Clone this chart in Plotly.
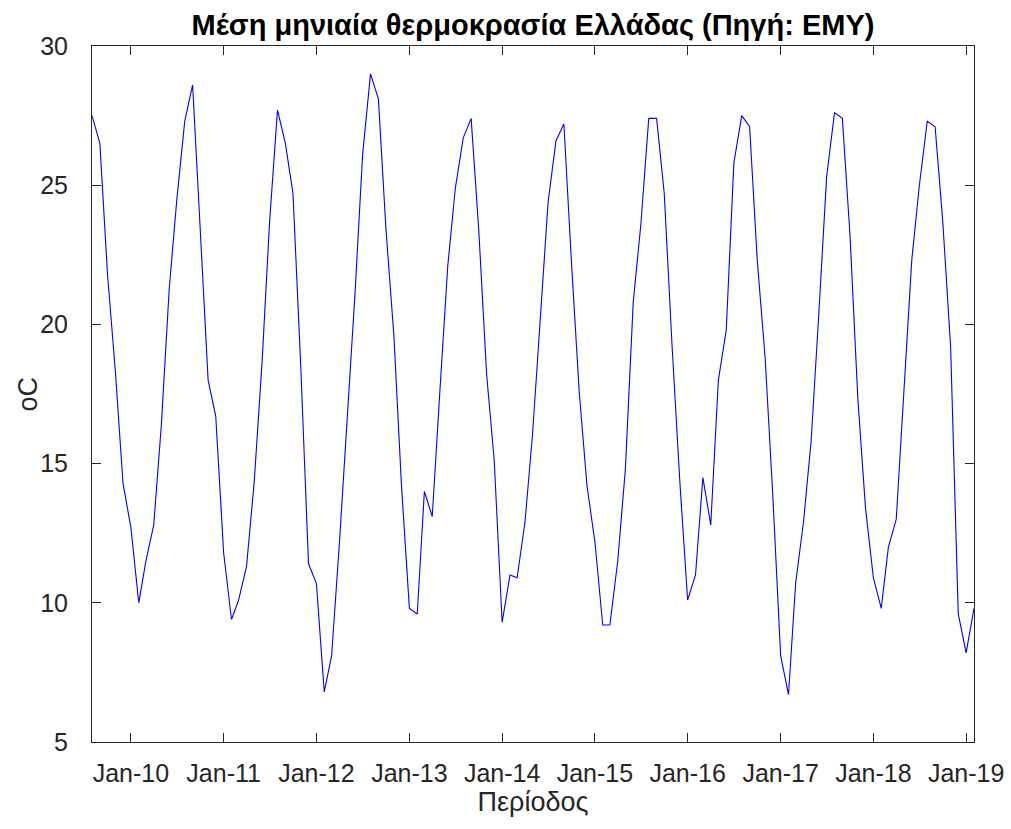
import pandas as pd
import plotly.graph_objects as go

# Monthly mean temperature, Aug 2009 - Feb 2019 (°C)
start_month = "2009-08-01"
temps_2009 = [27.5, 26.5, 21.8, 18.3, 14.3]
temps_2010 = [12.7, 10.0, 11.5, 12.8, 16.4, 21.3, 24.5, 27.3, 28.6, 23.4, 18.0, 16.7]
temps_2011 = [11.8, 9.4, 10.1, 11.3, 14.3, 18.6, 23.7, 27.7, 26.5, 24.7, 18.4, 11.4]
temps_2012 = [10.7, 6.8, 8.1, 12.2, 16.5, 21.1, 26.1, 29.0, 28.1, 23.4, 19.6, 14.2]
temps_2013 = [9.8, 9.6, 14.0, 13.1, 17.6, 22.1, 24.9, 26.7, 27.4, 23.4, 18.2, 15.1]
temps_2014 = [9.3, 11.0, 10.9, 12.9, 16.1, 20.2, 24.4, 26.6, 27.2, 22.2, 17.5, 14.2]
temps_2015 = [12.2, 9.2, 9.2, 11.5, 14.8, 20.8, 23.6, 27.4, 27.4, 24.7, 19.2, 14.4]
temps_2016 = [10.1, 11.0, 14.5, 12.8, 18.0, 19.8, 25.8, 27.5, 27.1, 22.3, 18.8, 13.9]
temps_2017 = [8.1, 6.7, 10.7, 12.9, 15.8, 20.5, 25.3, 27.6, 27.4, 23.2, 17.3, 13.4]
temps_2018 = [10.9, 9.8, 12.0, 13.0, 17.8, 22.3, 25.0, 27.3, 27.1, 23.7, 19.2, 9.6]
temps_2019 = [8.2, 9.8]

temps = (temps_2009 + temps_2010 + temps_2011 + temps_2012 + temps_2013 + temps_2014
         + temps_2015 + temps_2016 + temps_2017 + temps_2018 + temps_2019)
months = pd.date_range(start_month, periods=len(temps), freq="MS")

tick_years = list(range(2010, 2020))
tick_dates = [pd.Timestamp(year=y, month=1, day=1) for y in tick_years]
tick_labels = [f"Jan-{y % 100:02d}" for y in tick_years]

ink = "#262626"
font_family = "Liberation Sans, Arial, sans-serif"

fig = go.Figure()
fig.add_trace(go.Scatter(
    x=months, y=temps, mode="lines",
    line=dict(color="#0000ff", width=1.1),
    showlegend=False,
))

fig.update_layout(
    width=1011, height=829,
    margin=dict(l=92, r=37, t=46, b=87),
    paper_bgcolor="white", plot_bgcolor="white",
    font=dict(family=font_family, color=ink, size=25),
    title=dict(
        text="<b>Μέση μηνιαία θερμοκρασία Ελλάδας (Πηγή: ΕΜΥ)</b>",
        font=dict(family=font_family, size=29, color="black"),
        x=0.5, xref="paper", xanchor="center",
        y=1 - 25 / 829, yref="container", yanchor="middle",
    ),
)

# y-axis label placed beside the tick labels
fig.add_annotation(
    text="oC", textangle=-90, showarrow=False,
    xref="paper", yref="paper", x=-0.073, y=0.5,
    xanchor="center", yanchor="middle",
    font=dict(family=font_family, size=27, color=ink),
)

fig.update_xaxes(
    type="date", automargin=False,
    range=[months[0], months[-1]],
    tickvals=tick_dates, ticktext=tick_labels,
    ticks="inside", ticklen=9, tickwidth=1, tickcolor=ink,
    showline=True, linecolor=ink, linewidth=1, mirror="ticks",
    showgrid=False, zeroline=False,
    tickfont=dict(size=25, color=ink),
    ticklabelstandoff=9,
    title=dict(text="Περίοδος", font=dict(size=27, color=ink), standoff=2),
)
fig.update_yaxes(
    automargin=False,
    range=[5, 30], tickvals=[5, 10, 15, 20, 25, 30],
    ticks="inside", ticklen=9, tickwidth=1, tickcolor=ink,
    showline=True, linecolor=ink, linewidth=1, mirror="ticks",
    showgrid=False, zeroline=False,
    tickfont=dict(size=25, color=ink),
    ticklabelstandoff=18,
)

fig.write_html("out.html")
